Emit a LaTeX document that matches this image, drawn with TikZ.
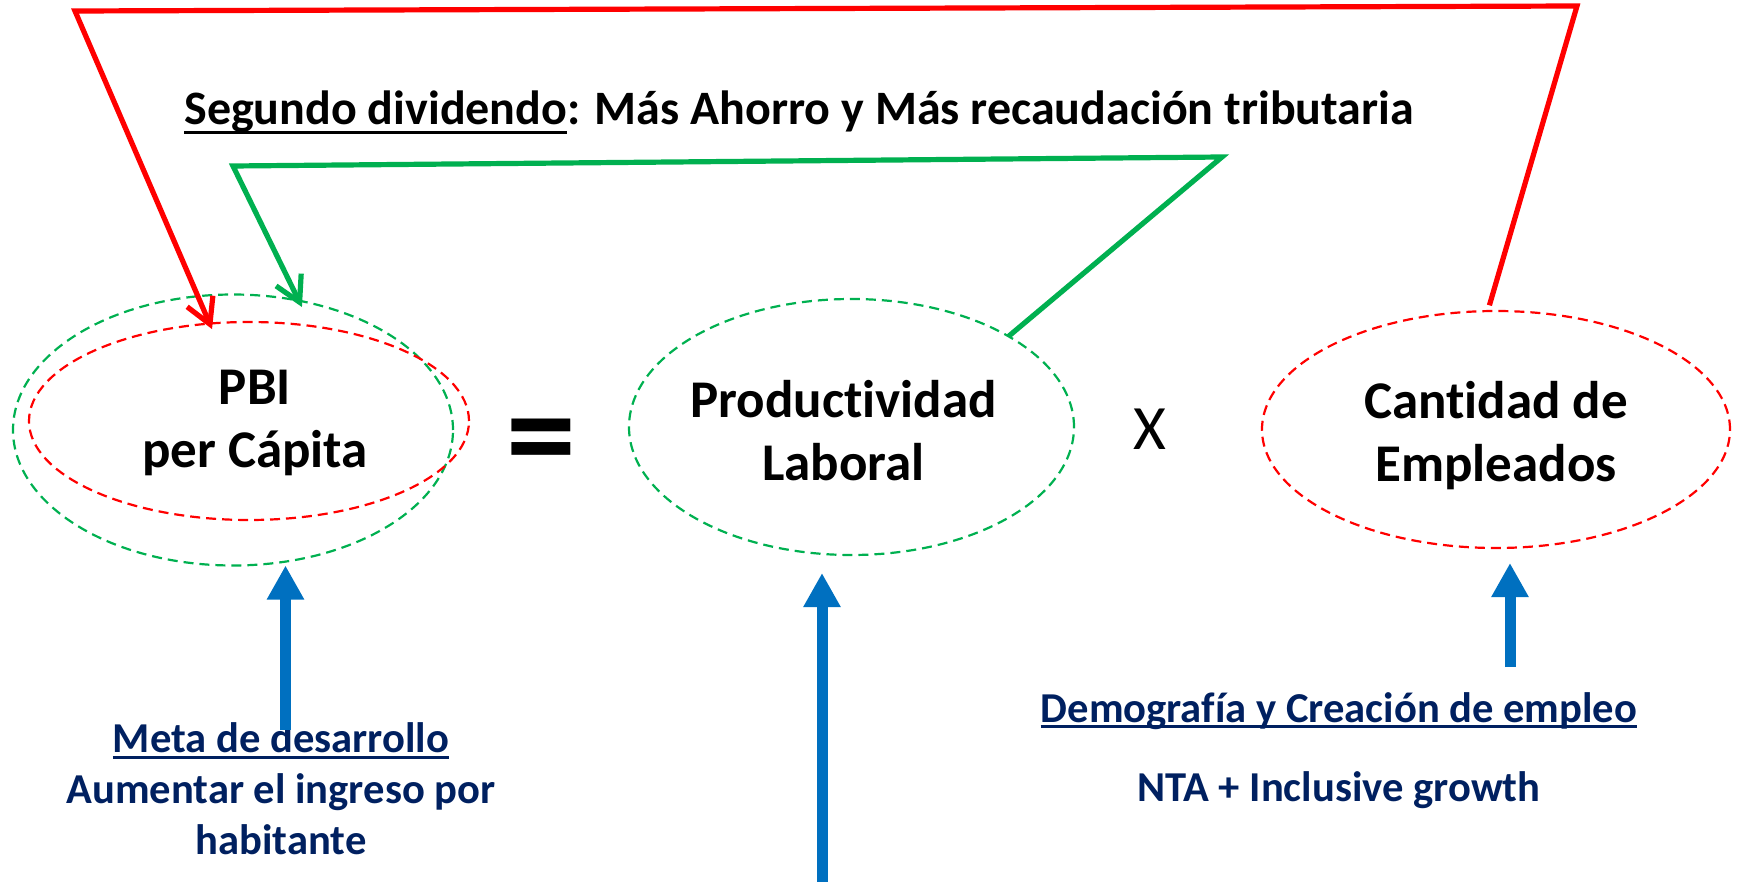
\documentclass[tikz,border=0pt]{standalone}
\usepackage{fontspec}
\setmainfont{Carlito}[Ligatures=NoCommon]
\usetikzlibrary{arrows.meta,shapes.geometric}
\definecolor{rojo}{RGB}{255,0,0}
\definecolor{verde}{RGB}{0,176,80}
\definecolor{azul}{RGB}{0,112,192}
\definecolor{marino}{RGB}{0,32,96}
\newcommand\subrayado[2][0.135em]{\leavevmode\setbox0\hbox{#2}\rlap{\rule[-#1]{\wd0}{0.06em}}\box0}

\begin{document}
\begin{tikzpicture}[x=0.5pt,y=-0.5pt,
  elipse/.style={ellipse,line width=1.1pt,dash pattern=on 5pt off 3pt,inner sep=0pt,outer sep=0pt},
  nombre/.style={font=\bfseries\fontsize{26.5}{31.5}\selectfont,align=center,inner sep=0pt},
  nota/.style={font=\bfseries\fontsize{21.3}{25.5}\selectfont,text=marino,align=center,inner sep=0pt},
  enlace/.style={line width=2.6pt,-{Straight Barb[length=12.5pt,width=14pt]}},
  flechaazul/.style={draw=azul,line width=5.5pt,-{Triangle[length=17pt,width=17.5pt]}}]
\path[use as bounding box] (0,0) rectangle (1737,882);
\node[elipse,draw=verde,minimum width=220pt,minimum height=135.5pt] (pbiV) at (233,430) {};
\node[elipse,draw=rojo,minimum width=220pt,minimum height=99pt] (pbiR) at (249,421) {};
\node[elipse,draw=verde,minimum width=222.5pt,minimum height=128pt] (prod) at (851.5,427) {};
\node[elipse,draw=rojo,minimum width=234pt,minimum height=118.5pt] (cant) at (1496,429.5) {};

\node[nombre] (pbitxt) at (255,422.5) {PBI\\per Cápita};
\node[nombre] (prodtxt) at (843.5,431) {Productividad\\Laboral};
\node[nombre] (canttxt) at (1496,436) {Cantidad de\\Empleados};
\node[anchor=base,inner sep=0pt,font=\bfseries\fontsize{70}{70}\selectfont] (igual) at (541,481) {=};
\node[anchor=base,inner sep=0pt,font=\fontsize{31.6}{36}\selectfont] (por) at (1150,450) {X};

\node[anchor=base,inner sep=0pt,font=\bfseries\fontsize{24}{28}\selectfont] (titulo) at (799,125) {\subrayado[0.195em]{Segundo dividendo}: Más Ahorro y Más recaudación tributaria};
\node[nota] (meta) at (281,789) {\subrayado{Meta de desarrollo}\\Aumentar el ingreso por\\habitante};
\node[nota,anchor=base] (demo) at (1339,722) {\subrayado{Demografía y Creación de empleo}};
\node[nota,anchor=base] (nta) at (1339,801) {NTA + Inclusive growth};

\coordinate (rojoA) at (1577,6);
\coordinate (rojoB) at (75,11);
\coordinate (verdeA) at (1222,157);
\coordinate (verdeB) at (233,166);
\draw[enlace,rojo,shorten <=3pt,shorten >=-3pt] (cant.94) -- (rojoA) -- (rojoB) -- (pbiR.112);
\draw[enlace,verde,shorten >=-3.5pt] (prod.30) -- (verdeA) -- (verdeB) -- (pbiV.63);

\coordinate (azul1) at (285.5,730);
\coordinate (azul2) at (822,882);
\coordinate (azul3) at (1510,667);
\draw[flechaazul] (azul1) -- (azul1 |- pbiV.south);
\draw[flechaazul,shorten >=9pt] (azul2) -- (azul2 |- prod.south);
\draw[flechaazul,shorten >=7.5pt] (azul3) -- (azul3 |- cant.south);
\end{tikzpicture}
\end{document}
